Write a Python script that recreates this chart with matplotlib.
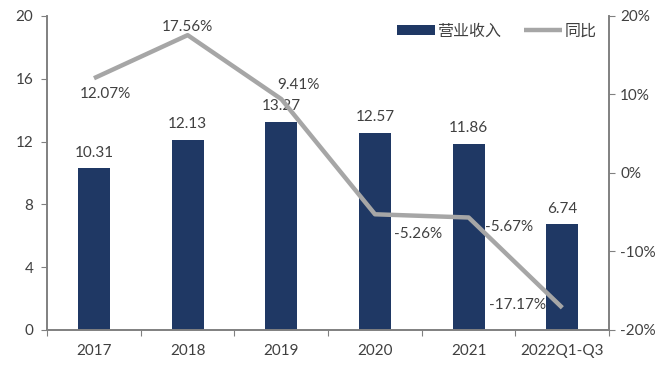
import matplotlib
matplotlib.use("Agg")
import matplotlib.pyplot as plt
from matplotlib.ticker import FuncFormatter

plt.rcParams['font.family'] = ['Lato', 'Noto Sans CJK SC', 'DejaVu Sans']

categories = ["2017", "2018", "2019", "2020", "2021", "2022Q1-Q3"]
revenue = [10.31, 12.13, 13.27, 12.57, 11.86, 6.74]
yoy = [12.07, 17.56, 9.41, -5.26, -5.67, -17.17]
yoy_labels = ["12.07%", "17.56%", "9.41%", "-5.26%", "-5.67%", "-17.17%"]
# label offsets in points (dx, dy)
yoy_offsets = [(8, -11), (0, 6), (12, 10), (31, -14), (29, -7), (-32, 2)]

bar_color = "#1f3864"
line_color = "#a6a6a6"
text_color = "#404040"
spine_color = "#808080"

fig = plt.figure(figsize=(6.55, 3.69), dpi=100)
ax = fig.add_axes([0.072, 0.1057, 0.858, 0.851])
ax2 = ax.twinx()

x = list(range(len(categories)))
bars = ax.bar(x, revenue, width=0.34, color=bar_color, label="营业收入", zorder=2)
ax.set_xlim(-0.5, len(categories) - 0.5)
ax.set_ylim(0, 20)
ax.set_yticks([0, 4, 8, 12, 16, 20])
for xi, v in zip(x, revenue):
    ax.annotate(f"{v:.2f}", (xi, v), xytext=(0, 6), textcoords="offset points",
                ha="center", va="bottom", fontsize=11, color=text_color)

ln, = ax2.plot(x, yoy, color=line_color, linewidth=3.2, label="同比", zorder=3,
               solid_capstyle="butt")
ax2.set_ylim(-20, 20)
ax2.set_yticks([-20, -10, 0, 10, 20])
ax2.yaxis.set_major_formatter(FuncFormatter(lambda v, p: f"{v:.0f}%"))
for xi, v, lab, (dx, dy) in zip(x, yoy, yoy_labels, yoy_offsets):
    ax2.annotate(lab, (xi, v), xytext=(dx, dy), textcoords="offset points",
                 ha="center", va="center", fontsize=11, color=text_color)

# x ticks at category boundaries
ax.set_xticks([i + 0.5 for i in range(-1, len(categories))], minor=False)
ax.set_xticklabels([])
ax.set_xticks(x, minor=True)
ax.set_xticklabels(categories, minor=True)
ax.tick_params(axis="x", which="minor", length=0, pad=10, labelsize=11, labelcolor=text_color)
ax.tick_params(axis="x", which="major", length=4, direction="out", color=spine_color)
ax.tick_params(axis="y", length=4, direction="out", color=spine_color, labelsize=11,
               labelcolor=text_color, pad=6)
ax2.tick_params(axis="y", length=4, direction="out", color=spine_color, labelsize=11,
                labelcolor=text_color, pad=4)

for a in (ax, ax2):
    a.spines["top"].set_visible(False)
    for s in ("left", "right", "bottom"):
        a.spines[s].set_color(spine_color)
        a.spines[s].set_linewidth(1.2)

leg = ax2.legend([bars, ln], ["营业收入", "同比"], loc="upper right", ncol=2,
                 frameon=False, fontsize=11.5, bbox_to_anchor=(1.003, 1.02),
                 handlelength=2.4, handleheight=0.6, handletextpad=0.15,
                 columnspacing=1.4)
for t in leg.get_texts():
    t.set_color(text_color)

fig.savefig("out.png", dpi=100)
